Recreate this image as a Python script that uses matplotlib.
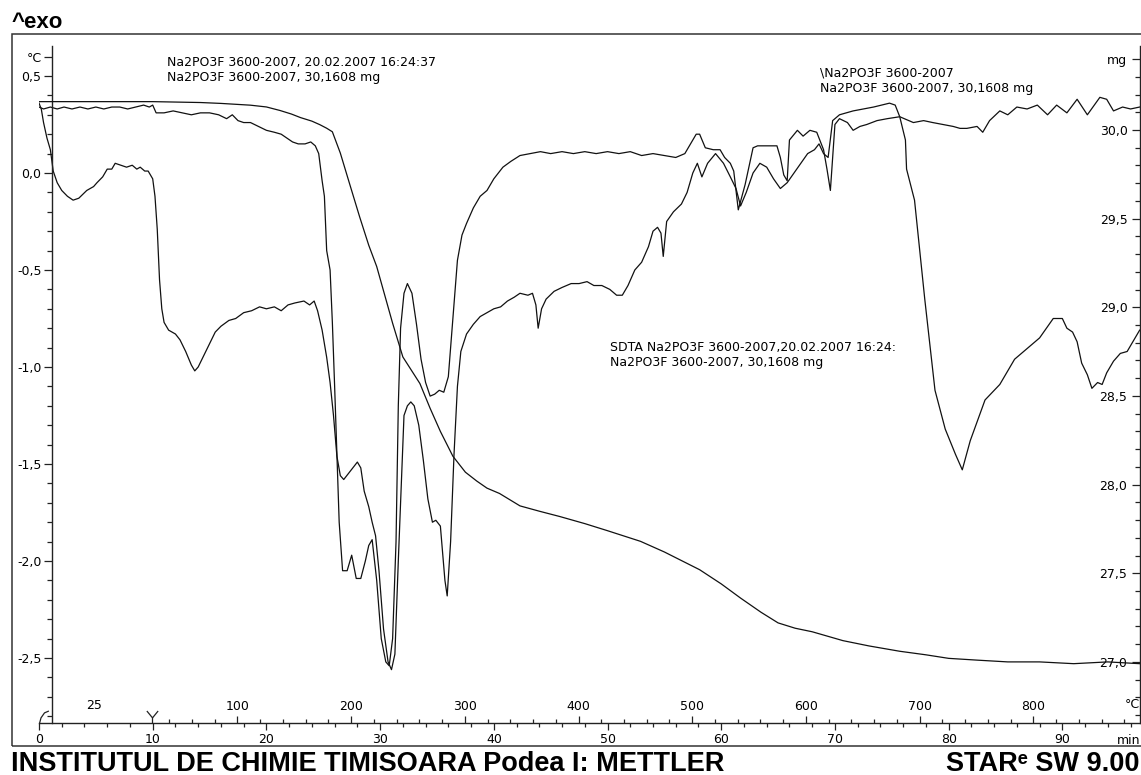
import numpy as np
import matplotlib
matplotlib.use('Agg')
import matplotlib.pyplot as plt
from matplotlib.path import Path
from matplotlib.patches import Rectangle
from matplotlib.ticker import FixedLocator, FixedFormatter

plt.rcParams['font.family'] = ['DejaVu Sans']
plt.rcParams['font.size'] = 9

# method: 25 degC isotherm, then 10 K/min
iso_end = 9.95
iso_temp = 25.0
heat_rate = 10.0

# TGA, time (min) / mass (mg)
tga = [(0, 30.16), (5, 30.16), (10, 30.16), (14.2, 30.155), (16, 30.15), (18.6, 30.14),
       (20, 30.13), (21.2, 30.11), (22.2, 30.09), (23.0, 30.07), (24.0, 30.05), (24.7, 30.03),
       (25.3, 30.01), (25.8, 29.99), (26.5, 29.87), (27.3, 29.70), (28.2, 29.51), (29.0, 29.35),
       (29.7, 29.23), (30.4, 29.07), (31.1, 28.91), (32.0, 28.72), (32.8, 28.64), (33.5, 28.57),
       (34.4, 28.43), (35.3, 28.30), (36.4, 28.16), (37.5, 28.07), (38.5, 28.02), (39.4, 27.98),
       (40.5, 27.95), (42.3, 27.88), (44.0, 27.85), (45.8, 27.82), (48.0, 27.78), (50.0, 27.74),
       (52.9, 27.68), (55.0, 27.62), (58.1, 27.52), (60.0, 27.44), (61.7, 27.36), (63.5, 27.28),
       (65.0, 27.22), (66.5, 27.19), (68.0, 27.17), (70.7, 27.12), (73.0, 27.09), (75.7, 27.06),
       (78.0, 27.04), (80.0, 27.02), (82.5, 27.01), (85.2, 27.00), (88.0, 27.00), (91.0, 26.99),
       (94.0, 27.00), (96.8, 26.99)]

# SDTA curve, upper one (degC)
sdta_a = [(0.0, 0.34), (0.4, 0.33), (1.0, 0.34), (1.6, 0.33), (2.2, 0.34), (2.9, 0.33),
          (3.6, 0.34), (4.3, 0.33), (5.0, 0.34), (5.7, 0.33), (6.4, 0.34), (7.1, 0.34),
          (7.8, 0.33), (8.5, 0.34), (9.2, 0.35), (9.7, 0.34), (10.0, 0.35), (10.3, 0.31),
          (11.0, 0.31), (11.8, 0.32), (12.6, 0.31), (13.4, 0.30), (14.2, 0.31), (15.0, 0.31),
          (15.8, 0.30), (16.5, 0.28), (17.0, 0.30), (17.5, 0.27), (18.0, 0.26), (18.6, 0.26),
          (19.3, 0.24), (20.0, 0.22), (20.7, 0.21), (21.3, 0.20), (21.8, 0.18), (22.3, 0.16),
          (22.8, 0.15), (23.4, 0.15), (23.9, 0.16), (24.3, 0.14), (24.6, 0.10), (24.9, -0.04),
          (25.1, -0.12), (25.3, -0.40), (25.6, -0.50), (25.8, -0.77), (26.0, -1.10), (26.2, -1.45),
          (26.4, -1.80), (26.7, -2.05), (27.1, -2.05), (27.5, -1.97), (27.9, -2.09), (28.3, -2.09),
          (28.7, -2.00), (29.0, -1.92), (29.3, -1.89), (29.7, -2.10), (30.1, -2.40), (30.5, -2.52),
          (30.8, -2.54), (31.1, -2.40), (31.4, -1.90), (31.6, -1.20), (31.8, -0.80), (32.1, -0.62),
          (32.4, -0.57), (32.8, -0.62), (33.2, -0.78), (33.6, -0.96), (34.0, -1.08), (34.4, -1.15),
          (34.8, -1.14), (35.2, -1.12), (35.6, -1.13), (36.0, -1.05), (36.4, -0.75), (36.8, -0.45),
          (37.2, -0.32), (37.6, -0.26), (38.2, -0.18), (38.8, -0.12), (39.4, -0.09), (40.0, -0.03),
          (40.8, 0.03), (41.5, 0.06), (42.3, 0.09), (43.2, 0.10), (44.1, 0.11), (45.0, 0.10),
          (46.0, 0.11), (47.0, 0.10), (48.0, 0.11), (49.0, 0.10), (50.0, 0.11), (51.0, 0.10),
          (52.0, 0.11), (53.0, 0.09), (54.0, 0.10), (55.0, 0.09), (56.0, 0.08), (56.8, 0.10),
          (57.4, 0.16), (57.8, 0.20), (58.1, 0.20), (58.6, 0.13), (59.3, 0.12), (59.9, 0.12),
          (60.3, 0.08), (60.8, 0.05), (61.1, 0.01), (61.5, -0.19), (62.1, -0.06), (62.8, 0.13),
          (63.2, 0.14), (64.0, 0.14), (64.9, 0.14), (65.2, 0.08), (65.5, -0.01), (65.8, -0.04),
          (66.0, 0.17), (66.7, 0.22), (67.2, 0.19), (67.8, 0.22), (68.4, 0.21), (69.0, 0.12),
          (69.3, 0.02), (69.6, -0.09), (70.0, 0.25), (70.4, 0.28), (71.1, 0.26), (71.6, 0.22),
          (72.2, 0.24), (72.8, 0.25), (73.7, 0.27), (74.6, 0.28), (75.7, 0.29), (76.9, 0.26),
          (77.8, 0.27), (78.6, 0.26), (79.5, 0.25), (80.4, 0.24), (81.0, 0.23), (81.6, 0.23),
          (82.5, 0.24), (83.0, 0.21), (83.6, 0.27), (84.5, 0.32), (85.2, 0.30), (86.0, 0.34),
          (86.9, 0.33), (87.8, 0.35), (88.7, 0.30), (89.5, 0.35), (90.4, 0.31), (91.3, 0.38),
          (92.2, 0.30), (93.3, 0.39), (93.9, 0.38), (94.5, 0.32), (95.3, 0.34), (96.0, 0.33),
          (96.8, 0.34)]

# SDTA curve, lower one (degC)
sdta_b = [(0.0, 0.36), (0.2, 0.33), (0.4, 0.26), (0.7, 0.18), (1.0, 0.12), (1.25, 0.01),
          (1.6, -0.05), (2.0, -0.09), (2.5, -0.12), (3.0, -0.14), (3.5, -0.13), (4.2, -0.09),
          (4.8, -0.07), (5.1, -0.05), (5.6, -0.02), (6.0, 0.02), (6.4, 0.02), (6.7, 0.05),
          (7.2, 0.04), (7.7, 0.03), (8.2, 0.04), (8.6, 0.02), (8.9, 0.03), (9.3, 0.01),
          (9.6, 0.01), (10.0, -0.03), (10.2, -0.12), (10.4, -0.29), (10.6, -0.55), (10.8, -0.70),
          (11.0, -0.77), (11.4, -0.81), (12.0, -0.83), (12.4, -0.86), (12.9, -0.92), (13.4, -0.99),
          (13.7, -1.02), (14.0, -1.00), (14.5, -0.94), (15.0, -0.88), (15.5, -0.82), (16.0, -0.79),
          (16.7, -0.76), (17.3, -0.75), (18.0, -0.72), (18.7, -0.71), (19.4, -0.69), (20.0, -0.70),
          (20.7, -0.69), (21.3, -0.71), (21.9, -0.68), (22.5, -0.67), (23.3, -0.66), (23.8, -0.68),
          (24.2, -0.66), (24.5, -0.71), (24.9, -0.81), (25.3, -0.95), (25.6, -1.08), (25.9, -1.25),
          (26.2, -1.46), (26.5, -1.56), (26.8, -1.58), (27.2, -1.55), (27.6, -1.52), (28.0, -1.49),
          (28.3, -1.52), (28.6, -1.64), (29.0, -1.72), (29.3, -1.80), (29.6, -1.87), (29.9, -2.05),
          (30.3, -2.35), (30.7, -2.52), (31.0, -2.56), (31.3, -2.48), (31.6, -2.00), (31.9, -1.55),
          (32.1, -1.25), (32.4, -1.20), (32.7, -1.18), (33.0, -1.20), (33.4, -1.30), (33.8, -1.48),
          (34.2, -1.68), (34.6, -1.80), (34.9, -1.79), (35.3, -1.82), (35.7, -2.10), (35.9, -2.18),
          (36.2, -1.90), (36.5, -1.45), (36.8, -1.10), (37.1, -0.92), (37.6, -0.83), (38.2, -0.78),
          (38.8, -0.74), (39.4, -0.72), (40.0, -0.70), (40.6, -0.69), (41.2, -0.66), (41.8, -0.64),
          (42.3, -0.62), (43.0, -0.63), (43.4, -0.62), (43.7, -0.68), (43.9, -0.80), (44.2, -0.70),
          (44.6, -0.65), (45.3, -0.61), (46.0, -0.59), (46.8, -0.57), (47.5, -0.57), (48.2, -0.56),
          (48.8, -0.58), (49.5, -0.58), (50.2, -0.60), (50.8, -0.63), (51.3, -0.63), (51.8, -0.58),
          (52.4, -0.50), (53.0, -0.46), (53.6, -0.38), (54.0, -0.30), (54.4, -0.28), (54.7, -0.31),
          (54.9, -0.43), (55.2, -0.25), (55.8, -0.20), (56.5, -0.16), (57.0, -0.10), (57.5, 0.00),
          (57.9, 0.05), (58.3, -0.02), (58.8, 0.05), (59.5, 0.10), (60.2, 0.05), (60.8, -0.02),
          (61.3, -0.08), (61.7, -0.17), (62.2, -0.10), (62.8, 0.00), (63.4, 0.05), (64.0, 0.03),
          (64.6, -0.03), (65.2, -0.08), (65.8, -0.05), (66.4, 0.00), (67.0, 0.05), (67.6, 0.10),
          (68.2, 0.12), (68.6, 0.15), (69.0, 0.10), (69.4, 0.08), (69.8, 0.27), (70.4, 0.30),
          (71.6, 0.32), (73.4, 0.34), (74.8, 0.36), (75.3, 0.35), (75.7, 0.29), (76.2, 0.17),
          (76.3, 0.02), (77.0, -0.14), (77.9, -0.65), (78.8, -1.12), (79.7, -1.32), (80.6, -1.45),
          (81.2, -1.53), (81.9, -1.38), (83.2, -1.17), (84.5, -1.09), (85.8, -0.96), (87.2, -0.89),
          (88.0, -0.85), (89.2, -0.75), (90.0, -0.75), (90.4, -0.80), (90.9, -0.82), (91.3, -0.87),
          (91.7, -0.98), (92.2, -1.04), (92.6, -1.11), (93.1, -1.08), (93.5, -1.09), (93.9, -1.03),
          (94.5, -0.97), (95.1, -0.93), (95.7, -0.92), (96.6, -0.83), (96.8, -0.81)]

degc_ticks = [-2.5, -2.0, -1.5, -1.0, -0.5, 0.0, 0.5]
mg_ticks = [27.0, 27.5, 28.0, 28.5, 29.0, 29.5, 30.0]
temp_ticks = [100, 200, 300, 400, 500, 600, 700, 800]
time_ticks = [0, 10, 20, 30, 40, 50, 60, 70, 80, 90]

info_1 = "Na2PO3F 3600-2007, 20.02.2007 16:24:37\nNa2PO3F 3600-2007, 30,1608 mg"
info_2 = "\\Na2PO3F 3600-2007\nNa2PO3F 3600-2007, 30,1608 mg"
info_3 = "SDTA Na2PO3F 3600-2007,20.02.2007 16:24:\nNa2PO3F 3600-2007, 30,1608 mg"

W, H = 1141, 775
fig = plt.figure(figsize=(W / 100, H / 100), dpi=100)

# frame round the plot
fig.add_artist(Rectangle((12 / W, 1 - 746 / H), 1.0, (746 - 34) / H,
                         transform=fig.transFigure, fill=False, lw=1.1, ec='#333333'))

ax = fig.add_axes([39 / W, 1 - 723 / H, 1101 / W, 677 / H])
ax.set_xlim(0, 96.83)
ax.set_ylim(-2.835, 0.6546)
ax2 = ax.twinx()
ax2.set_ylim(26.6554, 30.4738)

ink = '#111111'
for data, axis in [(tga, ax2), (sdta_a, ax), (sdta_b, ax)]:
    t, v = zip(*data)
    axis.plot(t, v, color=ink, lw=0.9)

# spines
for s in ['top', 'right']:
    ax.spines[s].set_visible(False)
for s in ['top', 'left', 'bottom']:
    ax2.spines[s].set_visible(False)
ax.spines['left'].set_position(('axes', 13 / 1101))
for sp in [ax.spines['left'], ax.spines['bottom'], ax2.spines['right']]:
    sp.set_color('#222222')
    sp.set_linewidth(1.0)

def comma(v):
    return f"{v:.1f}".replace('.', ',')

# left axis, degC
ax.yaxis.set_major_locator(FixedLocator(degc_ticks + [0.6]))
ax.yaxis.set_major_formatter(FixedFormatter([comma(v) for v in degc_ticks] + ['°C']))
ax.yaxis.set_minor_locator(FixedLocator(np.round(np.arange(-2.8, 0.61, 0.1), 1)))
ax.tick_params(axis='y', which='major', direction='out', length=5.5, width=0.9,
               color='#222222', pad=2, labelsize=9)
ax.tick_params(axis='y', which='minor', direction='out', length=3.5, width=0.9, color='#222222')

# right axis, mg, labels inside
ax2.yaxis.set_major_locator(FixedLocator(mg_ticks + [30.4]))
ax2.yaxis.set_major_formatter(FixedFormatter([comma(v) for v in mg_ticks] + ['mg']))
ax2.yaxis.set_minor_locator(FixedLocator(np.round(np.arange(26.7, 30.41, 0.1), 1)))
ax2.tick_params(axis='y', which='major', direction='in', length=5.5, width=0.9,
                color='#222222', pad=-9, labelsize=9)
ax2.tick_params(axis='y', which='minor', direction='in', length=3.5, width=0.9, color='#222222')
for lbl in ax2.get_yticklabels():
    lbl.set_horizontalalignment('right')

# time axis
ax.set_xticks(time_ticks)
ax.set_xticks(np.arange(0, 97, 2), minor=True)
ax.tick_params(axis='x', which='major', direction='out', length=5, width=0.9,
               color='#222222', pad=2, labelsize=9)
ax.tick_params(axis='x', which='minor', direction='out', length=3, width=0.9, color='#222222')
fig.text(1117 / W, 1 - 740 / H, 'min', ha='left', va='center', fontsize=9)

# temperature scale on top of the time axis
def t2T(t):
    return iso_temp + heat_rate * (np.asarray(t) - iso_end)

def T2t(T):
    return iso_end + (np.asarray(T) - iso_temp) / heat_rate

sec = ax.secondary_xaxis(0, functions=(t2T, T2t))
sec.set_alignment('top')
sec.spines['top'].set_visible(False)
sec.set_xticks(temp_ticks)
sec.set_xticks([T for T in range(40, 900, 20) if T % 100], minor=True)
sec.tick_params(axis='x', which='major', direction='out', length=5, width=0.9,
                color='#222222', pad=2, labelsize=9)
sec.tick_params(axis='x', which='minor', direction='out', length=3, width=0.9, color='#222222')
ax.annotate(f"{iso_temp:.0f}", xy=(iso_end / 2 - 0.1, 0), xycoords=('data', 'axes fraction'),
            xytext=(0, 8), textcoords='offset points', ha='center', va='bottom', fontsize=9)
fig.text(1125 / W, 1 - 705 / H, '°C', ha='left', va='center', fontsize=9)

# segment marks: start bracket and isotherm end "Y"
y_mark = Path([(0, 0), (0, 0.45), (-0.45, 1.0), (0, 0.45), (0.45, 1.0)],
              [Path.MOVETO, Path.LINETO, Path.LINETO, Path.MOVETO, Path.LINETO])
start_mark = Path([(0, 0), (0.12, 0.45), (0.4, 0.85), (0.75, 1.0)],
                  [Path.MOVETO, Path.LINETO, Path.LINETO, Path.LINETO])
xt = ax.get_xaxis_transform()
for pos, mk in [(iso_end, y_mark), (0, start_mark)]:
    ax.plot([pos], [0], marker=mk, ms=18, mec='#222222', mfc='none', mew=0.9,
            ls='none', transform=xt, clip_on=False)

# curve captions
fig.text(167 / W, 1 - 70 / H, info_1, ha='left', va='center', fontsize=9, linespacing=1.25)
fig.text(820 / W, 1 - 81 / H, info_2, ha='left', va='center', fontsize=9, linespacing=1.25)
fig.text(610 / W, 1 - 355 / H, info_3, ha='left', va='center', fontsize=9, linespacing=1.25)

fig.text(12 / W, 1 - 28 / H, '^exo', ha='left', va='baseline', fontsize=16,
         fontweight='bold', family=['Liberation Sans', 'DejaVu Sans'])
fig.text(11 / W, 1 - 771 / H, 'INSTITUTUL DE CHIMIE TIMISOARA Podea I: METTLER',
         ha='left', va='baseline', fontsize=19.5, fontweight='bold',
         family=['Liberation Sans', 'DejaVu Sans'])
fig.text(1140 / W, 1 - 771 / H, 'STARᵉ SW 9.00', ha='right', va='baseline', fontsize=19.5,
         fontweight='bold', family=['Liberation Sans', 'DejaVu Sans'])

fig.savefig('out.png', dpi=100)
